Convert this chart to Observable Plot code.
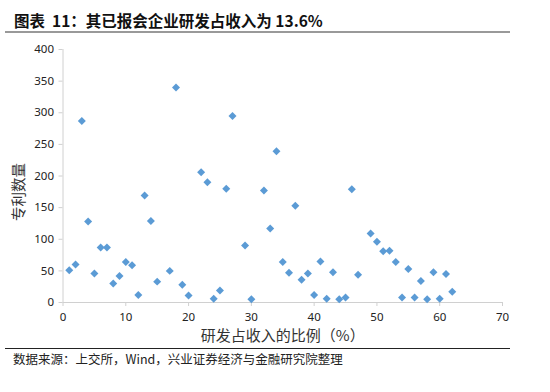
<!DOCTYPE html>
<html>
<head>
<meta charset="utf-8">
<script src="https://cdn.jsdelivr.net/npm/d3@7"></script>
<script src="https://cdn.jsdelivr.net/npm/@observablehq/plot@0.6"></script>
<style>
  body { margin: 0; background: #fff; }
  #wrap { position: relative; width: 550px; height: 392px; overflow: hidden; font-family: "Noto Sans CJK SC", "Noto Sans", sans-serif; }
  #title { position: absolute; left: 14px; top: 9px; font-size: 15.5px; font-weight: bold; color: #111; white-space: pre; line-height: 22px; }
  #tline { position: absolute; left: 5px; top: 31px; width: 505px; height: 2px; background: #999; }
  #cline { position: absolute; left: 5px; top: 348px; width: 505px; height: 1px; background: #222; }
  #caption { position: absolute; left: 13px; top: 350px; font-size: 12.5px; color: #222; white-space: nowrap; line-height: 18px; }
  #chart { position: absolute; left: 0; top: 0; }
</style>
</head>
<body>
<div id="wrap">
  <div id="chart"></div>
  <div id="title">图表  11：其已报会企业研发占收入为 13.6%</div>
  <div id="tline"></div>
  <div id="cline"></div>
  <div id="caption">数据来源：上交所，Wind，兴业证券经济与金融研究院整理</div>
</div>
<script>
const xValues = [1,2,3,4,5,6,7,8,9,10,11,12,13,14,15,17,18,19,20,22,23,24,25,26,27,29,30,32,33,34,35,36,37,38,39,40,41,42,43,44,45,46,47,49,50,51,52,53,54,55,56,57,58,59,60,61,62];
const patents = [51,60,287,128,46,87,87,30,42,64,59,12,169,129,33,50,340,28,11,206,190,6,19,180,295,90,5,177,117,239,64,47,153,36,46,12,65,6,48,5,8,179,44,109,96,81,82,64,8,53,8,34,5,48,6,45,17];
const xTicks = [0,10,20,30,40,50,60,70];
const yTicks = [0,50,100,150,200,250,300,350,400];
const xLabel = "研发占收入的比例（%）";
const yLabel = "专利数量";

const data = xValues.map((x, i) => ({x, y: patents[i]}));

const chart = Plot.plot({
  width: 550,
  height: 392,
  marginLeft: 62.5,
  marginRight: 48,
  marginTop: 49,
  marginBottom: 90,
  style: { fontFamily: "'Noto Sans', 'Liberation Sans', sans-serif", fontSize: "11px", color: "#333", background: "transparent" },
  x: { domain: [0, 70], ticks: xTicks, label: null },
  y: { domain: [0, 400], ticks: yTicks, label: null },
  marks: [
    Plot.ruleY([0], { stroke: "#d0d0d0", strokeWidth: 1 }),
    Plot.ruleX([0], { stroke: "#d0d0d0", strokeWidth: 1 }),
    Plot.axisX({ ticks: xTicks, tickSize: 4, tickPadding: 6, stroke: "#d0d0d0", fill: "#222", fontSize: 11.5 }),
    Plot.axisY({ ticks: yTicks, tickSize: 4, tickPadding: 5, stroke: "#d0d0d0", fill: "#222", fontSize: 11.5 }),
    Plot.dot(data, { x: "x", y: "y", symbol: "diamond2", r: 3.6, fill: "#5B9BD5", stroke: "none" }),
    Plot.text([xLabel], { frameAnchor: "bottom", textAnchor: "middle", dy: 38, fontSize: 15, fill: "#333", fontFamily: "'Noto Sans CJK SC', sans-serif" }),
    Plot.text([yLabel], { frameAnchor: "left", textAnchor: "middle", dx: -44, dy: 16, rotate: -90, fontSize: 14.5, fill: "#333", fontFamily: "'Noto Sans CJK SC', sans-serif" })
  ]
});
document.getElementById("chart").appendChild(chart);
</script>
</body>
</html>
